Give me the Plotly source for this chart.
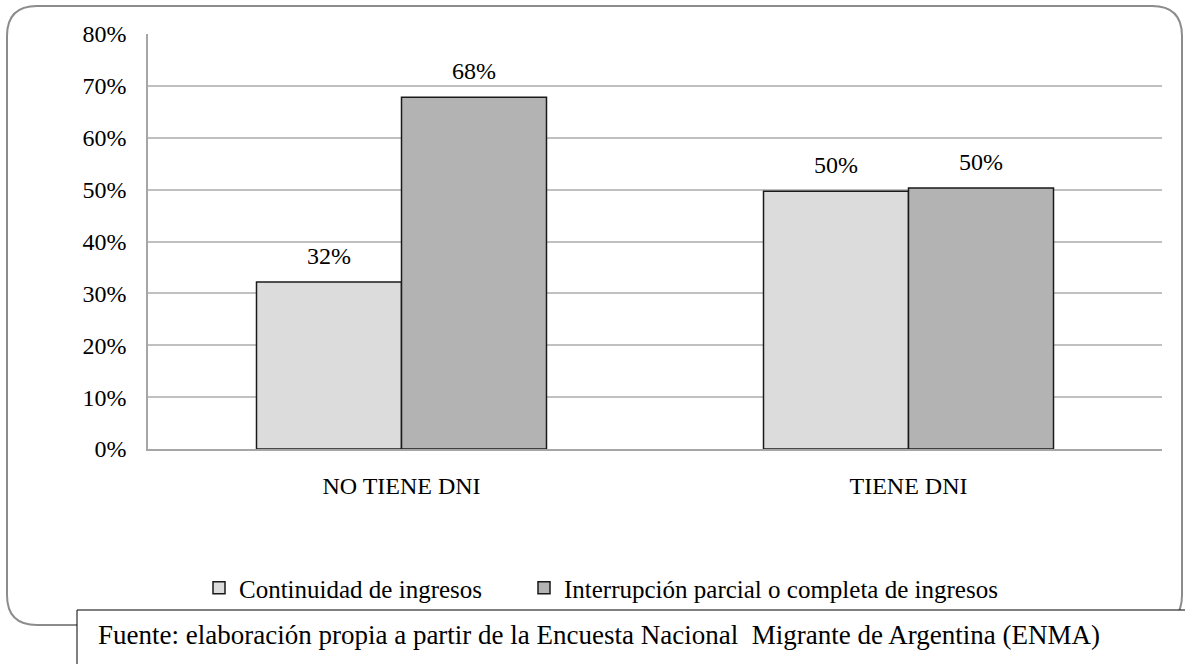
import plotly.graph_objects as go

categories = ["NO TIENE DNI", "TIENE DNI"]
series_names = ["Continuidad de ingresos", "Interrupción parcial o completa de ingresos"]
continuidad = [32.2, 49.7]
interrupcion = [67.8, 50.3]
y_ticks = [0, 10, 20, 30, 40, 50, 60, 70, 80]
y_tick_labels = [f"{v}%" for v in y_ticks]
source_text = "Fuente: elaboración propia a partir de la Encuesta Nacional  Migrante de Argentina (ENMA)"

W, H = 1185, 664
L, R, T, B = 148, 1162, 34, 449
FONT = "Liberation Serif, Times New Roman, serif"
FS = 24

def px(x):
    return (x - L) / (R - L)

def py(y):
    return (B - y) / (B - T)

bar_w = 0.286
xs = list(range(len(categories)))

fig = go.Figure()
fig.add_trace(go.Bar(
    x=xs, y=continuidad, name=series_names[0], width=bar_w, offset=-bar_w,
    marker=dict(color="#dcdcdc", line=dict(color="#1a1a1a", width=1.5)),
    legend="legend", showlegend=True,
))
fig.add_trace(go.Bar(
    x=xs, y=interrupcion, name=series_names[1], width=bar_w, offset=0,
    marker=dict(color="#b3b3b3", line=dict(color="#1a1a1a", width=1.5)),
    legend="legend2", showlegend=True,
))

for i in xs:
    for val, off in ((continuidad[i], -bar_w / 2), (interrupcion[i], bar_w / 2)):
        fig.add_annotation(x=i + off, y=val, xref="x", yref="y", text=f"{val:.0f}%",
                           showarrow=False, yanchor="middle", yshift=26,
                           font=dict(family=FONT, size=FS, color="#000"))

# rounded outer frame
x0, y0, x1, y1, r = px(7), py(6), px(1182), py(625), 30
rx, ry = r / (R - L), r / (B - T)
path = (f"M {x0+rx},{y0} L {x1-rx},{y0} Q {x1},{y0} {x1},{y0-ry} "
        f"L {x1},{y1+ry} Q {x1},{y1} {x1-rx},{y1} L {x0+rx},{y1} "
        f"Q {x0},{y1} {x0},{y1+ry} L {x0},{y0-ry} Q {x0},{y0} {x0+rx},{y0} Z")
fig.add_shape(type="path", path=path, xref="paper", yref="paper",
              line=dict(color="#8c8c8c", width=2), fillcolor="rgba(0,0,0,0)", layer="below")
# source box
fig.add_shape(type="rect", xref="paper", yref="paper",
              x0=px(77), y0=py(610), x1=px(1195), y1=py(680),
              line=dict(color="#000", width=1), fillcolor="white", layer="above")
fig.add_annotation(x=px(96), y=py(635), xref="paper", yref="paper", text=source_text,
                   showarrow=False, xanchor="left", yanchor="middle",
                   font=dict(family=FONT, size=27, color="#000"))

legend_common = dict(orientation="h", yanchor="middle", y=py(588), xanchor="left",
                     font=dict(family=FONT, size=25), itemwidth=30,
                     bgcolor="rgba(0,0,0,0)")

fig.update_layout(
    width=W, height=H,
    margin=dict(l=L, r=W - R, t=T, b=H - B),
    paper_bgcolor="white", plot_bgcolor="white",
    barmode="group",
    showlegend=True,
    font=dict(family=FONT, size=FS, color="#000"),
    legend=dict(x=px(199), **legend_common),
    legend2=dict(x=px(524), **legend_common),
    xaxis=dict(range=[-0.5, 1.5], tickvals=xs, ticktext=categories, showgrid=False,
               showline=True, linecolor="#a6a6a6", linewidth=1.5, zeroline=False,
               ticks="outside", ticklen=14, tickcolor="rgba(0,0,0,0)",
               tickfont=dict(family=FONT, size=FS)),
    yaxis=dict(range=[0, 80], tickvals=y_ticks, ticktext=y_tick_labels, showgrid=True,
               gridcolor="#c0c0c0", gridwidth=1.5, showline=True, linecolor="#a6a6a6",
               linewidth=1.5, zeroline=False, ticks="outside", ticklen=15,
               tickcolor="rgba(0,0,0,0)", tickfont=dict(family=FONT, size=FS)),
)

fig.write_html("out.html", config={"displayModeBar": False},
               post_script="document.body.style.margin='0px';")
